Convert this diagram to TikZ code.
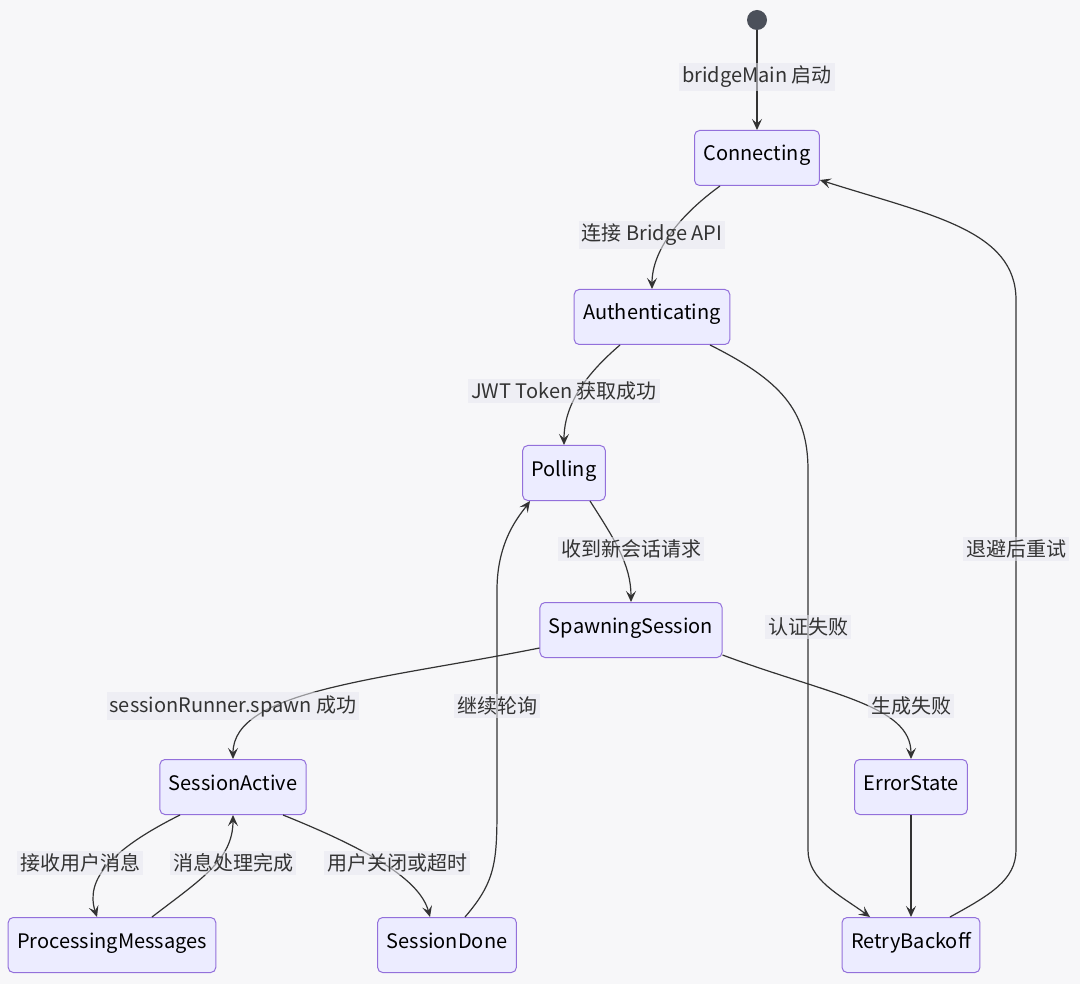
\documentclass[tikz,border=0pt]{standalone}
\usepackage{fontspec}
\setmainfont{Noto Sans CJK SC}
\usetikzlibrary{positioning, arrows.meta, calc}

\definecolor{bgcol}{HTML}{F7F7F9}
\definecolor{statefill}{HTML}{ECECFF}
\definecolor{statedraw}{HTML}{9370DB}
\definecolor{linecol}{HTML}{333333}
\definecolor{startcol}{HTML}{4B505A}
\definecolor{labelfill}{HTML}{E8E8F0}

\tikzset{
  statebox/.style={draw=statedraw, fill=statefill, rounded corners=5pt, line width=1pt,
    minimum height=55pt, inner xsep=9pt, text height=15pt, text depth=9pt,
    font=\fontsize{20}{24}\selectfont, text=black},
  edgelabel/.style={fill=labelfill, fill opacity=0.55, text opacity=1, inner sep=3pt,
    font=\fontsize{20}{24}\selectfont, text=linecol},
  trans/.style={draw=linecol, line width=1.2pt, -{Stealth[length=11pt, width=10pt, inset=4.5pt]}}
}

\begin{document}
\begin{tikzpicture}[x=1pt, y=-1pt]
  \fill[bgcol] (0,0) rectangle (1080,984);
  \useasboundingbox (0,0) rectangle (1080,984);

  % states
  \node[circle, fill=startcol, minimum size=20pt, inner sep=0pt] (start) at (757,20) {};
  \node[statebox] (conn) at (757,158) {Connecting};
  \node[statebox] (auth) at (652,317) {Authenticating};
  \node[statebox] (poll) at (564,473) {Polling};
  \node[statebox] (spawn) at (631,630) {SpawningSession};
  \node[statebox] (active) at (233,787) {SessionActive};
  \node[statebox] (proc) at (112,945) {ProcessingMessages};
  \node[statebox] (done) at (447,945) {SessionDone};
  \node[statebox] (err) at (911,787) {ErrorState};
  \node[statebox] (retry) at (911,945) {RetryBackoff};

  % transitions
  \draw[trans] (start) -- (conn);
  \draw[trans] ($(conn.south)+(-37,0)$) .. controls (680,215) and (652,250) .. (auth.north);
  \draw[trans] ($(auth.south)+(-32,0)$) .. controls (585,375) and (564,405) .. (poll.north);
  \draw[trans] ($(poll.south)+(26,0)$) .. controls (615,540) and (631,565) .. (spawn.north);
  \draw[trans] ($(auth.south)+(58,0)$) .. controls (780,380) and (808,410) .. (808,470)
    -- (808,850) .. controls (808,880) and (840,895) .. ($(retry.north)+(-41,0)$);
  \draw[trans] ($(retry.north)+(39,0)$) .. controls (990,895) and (1016,880) .. (1016,850)
    -- (1016,300) .. controls (1016,230) and (930,215) .. ($(conn.east)+(0,22)$);
  \draw[trans] ($(spawn.west)+(0,18)$) .. controls (380,680) and (233,690) .. (active.north);
  \draw[trans] ($(spawn.east)+(0,25)$) .. controls (830,695) and (911,705) .. (err.north);
  \draw[trans] (err) -- (retry);
  \draw[trans] ($(active.south)+(-53,0)$) .. controls (110,850) and (85,880) .. ($(proc.north)+(-15,0)$);
  \draw[trans] ($(proc.north)+(40,0)$) .. controls (200,880) and (233,860) .. (active.south);
  \draw[trans] ($(active.south)+(50,0)$) .. controls (370,850) and (420,880) .. ($(done.north)+(-17,0)$);
  \draw[trans] ($(done.north)+(18,0)$) .. controls (497,880) and (497,860) .. (497,800)
    -- (497,590) .. controls (497,540) and (520,515) .. ($(poll.south)+(-34,0)$);

  % labels
  \node[edgelabel] (lstart) at (757,77) {bridgeMain 启动};
  \node[edgelabel] (lconn) at (652,235) {连接 Bridge API};
  \node[edgelabel] (lauth) at (564,391) {JWT Token 获取成功};
  \node[edgelabel] (lpoll) at (631,549) {收到新会话请求};
  \node[edgelabel] (lfail) at (808,627) {认证失败};
  \node[edgelabel] (lretry) at (1016,549) {退避后重试};
  \node[edgelabel] (lspawn) at (233,706) {sessionRunner.spawn 成功};
  \node[edgelabel] (lcont) at (497,706) {继续轮询};
  \node[edgelabel] (lerr) at (911,706) {生成失败};
  \node[edgelabel] (lrecv) at (80,863) {接收用户消息};
  \node[edgelabel] (lproc) at (233,863) {消息处理完成};
  \node[edgelabel] (lclose) at (397,863) {用户关闭或超时};
\end{tikzpicture}
\end{document}
